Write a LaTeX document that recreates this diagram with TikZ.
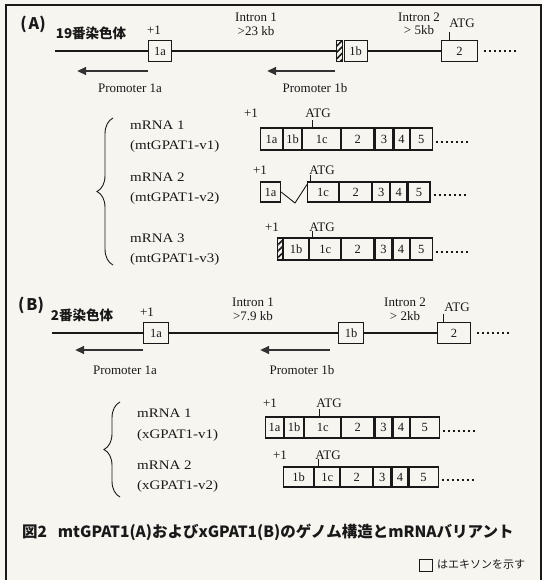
\documentclass[tikz,border=0pt]{standalone}
\usepackage{fontspec}
\setmainfont{Liberation Serif}
\newfontfamily\serifwide[FakeStretch=1.15]{Liberation Serif}
\newfontfamily\jp{Noto Sans CJK JP}
\usetikzlibrary{arrows.meta,decorations.pathreplacing,patterns.meta,calc}
\definecolor{bg}{RGB}{246,245,240}
\definecolor{ink}{RGB}{25,25,25}
\definecolor{arr}{RGB}{50,50,50}
\tikzset{
 lbl/.style={font=\fontsize{13}{14}\selectfont, text=ink, inner sep=0},
 vlbl/.style={font=\serifwide\fontsize{13}{14}\selectfont, text=ink, inner sep=0, anchor=west},
 exon/.style={draw=ink, line width=1.1pt, minimum height=21pt, inner sep=0, font=\fontsize{12.5}{12.5}\selectfont, text=ink, anchor=west},
 hatchbox/.style={draw=ink, line width=1.1pt, pattern={Lines[angle=45,distance=4.5pt,line width=1.6pt]}, pattern color=ink, minimum width=6pt, minimum height=21pt, inner sep=0, anchor=west},
 chrom/.style={line width=2.8pt, draw=ink},
 prom/.style={line width=2.8pt, draw=arr, -{Triangle[length=9pt,width=7.5pt]}},
 tick/.style={line width=0.9pt, draw=ink},
 dotline/.style={draw=ink, line width=2pt, dash pattern=on 2pt off 3pt},
 cbrace/.style={draw=ink, line width=0.9pt, decorate, decoration={brace, amplitude=16pt, aspect=0.5}},
 panel/.style={font=\jp\bfseries\fontsize{16}{16}\selectfont, text=ink, inner sep=0},
 chrlbl/.style={font=\jp\bfseries\fontsize{13.5}{14}\selectfont, text=ink, inner sep=0},
}
\begin{document}
\begin{tikzpicture}[x=1pt,y=-1pt]
\useasboundingbox (0,0) rectangle (542,580);
\fill[bg] (0,0) rectangle (542,580);
\draw[ink, line width=1.8pt] (6,580) -- (6,5) -- (541,5) -- (541,580);

% ---------- Panel A genome ----------
\node[panel] (lA) at (33,24) {(\hspace{2pt}A)};
\node[chrlbl] (chrA) at (91,33) {19番染色体};
\coordinate (a0) at (55,51);
\node[exon, minimum width=23pt] (a1a) at (148,51) {1a};
\node[hatchbox] (ah) at (336,51) {};
\node[exon, minimum width=23pt] (a1b) at (ah.east) {1b};
\node[exon, minimum width=36pt] (a2) at (441,51) {2};
\draw[chrom] (a0) -- (a1a.west) (a1a.east) -- (ah.west) (a1b.east) -- (a2.west);
\coordinate (ad0) at ($(a2.east)+(6,0)$);
\coordinate (ad1) at ($(a2.east)+(40,0)$);
\draw[dotline] (ad0) -- (ad1);
\node[lbl] (aplus) at (154,30) {+1};
\node[lbl] (ai1) at (256,17) {Intron 1};
\node[lbl] (ai1s) at (256,31) {>23 kb};
\node[lbl] (ai2) at (419,17) {Intron 2};
\node[lbl] (ai2s) at (419,30) {> 5kb};
\node[lbl] (aatg) at (462,23) {ATG};
\draw[tick] ([xshift=8pt]a2.north west) -- ++(0,-8);
\coordinate (pa1s) at (148,71); \coordinate (pa1e) at (77,71);
\draw[prom] (pa1s) -- (pa1e);
\node[lbl] (pa1) at (130,88) {Promoter 1a};
\coordinate (pa2s) at (335,71); \coordinate (pa2e) at (267,71);
\draw[prom] (pa2s) -- (pa2e);
\node[lbl] (pa2) at (315,88) {Promoter 1b};

% ---------- Panel A mRNAs ----------
\draw[cbrace] (113,265) -- (113,118);
\node[vlbl] (m1n) at (130,125) {mRNA 1};
\node[vlbl] (m1v) at (130,146) {(mtGPAT1-v1)};
\node[vlbl] (m2n) at (130,177) {mRNA 2};
\node[vlbl] (m2v) at (130,198) {(mtGPAT1-v2)};
\node[vlbl] (m3n) at (130,238) {mRNA 3};
\node[vlbl] (m3v) at (130,259) {(mtGPAT1-v3)};

% mRNA 1
\node[exon, minimum width=22pt, minimum height=22pt] (m1a) at (260,139) {1a};
\node[exon, minimum width=18pt, minimum height=22pt] (m1b) at (m1a.east) {1b};
\node[exon, minimum width=38pt, minimum height=22pt] (m1c) at (m1b.east) {1c};
\node[exon, minimum width=32pt, minimum height=22pt] (m12) at (m1c.east) {2};
\node[exon, minimum width=18pt, minimum height=22pt] (m13) at (m12.east) {3};
\node[exon, minimum width=15pt, minimum height=22pt] (m14) at (m13.east) {4};
\node[exon, minimum width=22pt, minimum height=22pt] (m15) at (m14.east) {5};
\coordinate (m1d0) at ($(m15.east)+(3,3)$); \coordinate (m1d1) at ($(m15.east)+(35,3)$);
\draw[dotline] (m1d0) -- (m1d1);
\node[lbl] (m1p) at (251,113) {+1};
\node[lbl] (m1t) at (318,113) {ATG};
\draw[tick] ([xshift=10pt]m1c.north west) -- ++(0,-7);

% mRNA 2
\node[exon, minimum width=20pt, minimum height=20pt] (m2a) at (260,192) {1a};
\node[exon, minimum width=31pt, minimum height=20pt] (m2c) at (307,192) {1c};
\node[exon, minimum width=32pt, minimum height=20pt] (m22) at (m2c.east) {2};
\node[exon, minimum width=17pt, minimum height=20pt] (m23) at (m22.east) {3};
\node[exon, minimum width=16pt, minimum height=20pt] (m24) at (m23.east) {4};
\node[exon, minimum width=22pt, minimum height=20pt] (m25) at (m24.east) {5};
\coordinate (m2v0) at (295,203);
\draw[tick] (m2a.east) -- (m2v0) -- ($(m2c.north west)+(0,3)$);
\coordinate (m2d0) at ($(m25.east)+(3,3)$); \coordinate (m2d1) at ($(m25.east)+(35,3)$);
\draw[dotline] (m2d0) -- (m2d1);
\node[lbl] (m2p) at (260,170) {+1};
\node[lbl] (m2t) at (322,170) {ATG};
\draw[tick] ([xshift=3pt]m2c.north west) -- ++(0,-6);

% mRNA 3
\node[hatchbox, minimum width=5pt, minimum height=22pt] (m3h) at (277,249) {};
\node[exon, minimum width=25pt, minimum height=22pt] (m3b) at (m3h.east) {1b};
\node[exon, minimum width=31pt, minimum height=22pt] (m3c) at (m3b.east) {1c};
\node[exon, minimum width=32pt, minimum height=22pt] (m32) at (m3c.east) {2};
\node[exon, minimum width=17pt, minimum height=22pt] (m33) at (m32.east) {3};
\node[exon, minimum width=16pt, minimum height=22pt] (m34) at (m33.east) {4};
\node[exon, minimum width=22pt, minimum height=22pt] (m35) at (m34.east) {5};
\coordinate (m3d0) at ($(m35.east)+(3,3)$); \coordinate (m3d1) at ($(m35.east)+(35,3)$);
\draw[dotline] (m3d0) -- (m3d1);
\node[lbl] (m3p) at (272,227) {+1};
\node[lbl] (m3t) at (322,227) {ATG};
\draw[tick] ([xshift=3pt]m3c.north west) -- ++(0,-6);

% ---------- Panel B genome ----------
\node[panel] (lB) at (31,305) {(\hspace{2pt}B)};
\node[chrlbl] (chrB) at (82,315) {2番染色体};
\coordinate (b0) at (52,333);
\node[exon, minimum width=25pt] (b1a) at (143,333) {1a};
\node[exon, minimum width=25pt] (b1b) at (338,333) {1b};
\node[exon, minimum width=33pt] (b2) at (437,333) {2};
\draw[chrom] (b0) -- (b1a.west) (b1a.east) -- (b1b.west) (b1b.east) -- (b2.west);
\coordinate (bd0) at ($(b2.east)+(6,0)$);
\coordinate (bd1) at ($(b2.east)+(40,0)$);
\draw[dotline] (bd0) -- (bd1);
\node[lbl] (bplus) at (147,312) {+1};
\node[lbl] (bi1) at (253,302) {Intron 1};
\node[lbl] (bi1s) at (253,316) {>7.9 kb};
\node[lbl] (bi2) at (405,302) {Intron 2};
\node[lbl] (bi2s) at (405,316) {> 2kb};
\node[lbl] (batg) at (457,307) {ATG};
\draw[tick] ([xshift=6pt]b2.north west) -- ++(0,-8);
\coordinate (pb1s) at (143,350); \coordinate (pb1e) at (75,350);
\draw[prom] (pb1s) -- (pb1e);
\node[lbl] (pb1) at (125,370) {Promoter 1a};
\coordinate (pb2s) at (330,350); \coordinate (pb2e) at (260,350);
\draw[prom] (pb2s) -- (pb2e);
\node[lbl] (pb2) at (302,370) {Promoter 1b};

% ---------- Panel B mRNAs ----------
\draw[cbrace] (120,497) -- (120,402);
\node[vlbl] (n1n) at (137,413) {mRNA 1};
\node[vlbl] (n1v) at (137,435) {(xGPAT1-v1)};
\node[vlbl] (n2n) at (137,465) {mRNA 2};
\node[vlbl] (n2v) at (137,486) {(xGPAT1-v2)};

\node[exon, minimum width=18pt] (n1a) at (265,427.5) {1a};
\node[exon, minimum width=19pt] (n1b) at (n1a.east) {1b};
\node[exon, minimum width=36pt] (n1c) at (n1b.east) {1c};
\node[exon, minimum width=32pt] (n12) at (n1c.east) {2};
\node[exon, minimum width=17pt] (n13) at (n12.east) {3};
\node[exon, minimum width=16pt] (n14) at (n13.east) {4};
\node[exon, minimum width=29pt] (n15) at (n14.east) {5};
\coordinate (n1d0) at ($(n15.east)+(3,3)$); \coordinate (n1d1) at ($(n15.east)+(35,3)$);
\draw[dotline] (n1d0) -- (n1d1);
\node[lbl] (n1p) at (270,403) {+1};
\node[lbl] (n1t) at (329,403) {ATG};
\draw[tick] ([xshift=15pt]n1c.north west) -- ++(0,-7);

\node[exon, minimum width=30pt, minimum height=20pt] (n2b) at (283,477) {1b};
\node[exon, minimum width=25pt, minimum height=20pt] (n2c) at (n2b.east) {1c};
\node[exon, minimum width=32pt, minimum height=20pt] (n22) at (n2c.east) {2};
\node[exon, minimum width=17pt, minimum height=20pt] (n23) at (n22.east) {3};
\node[exon, minimum width=16pt, minimum height=20pt] (n24) at (n23.east) {4};
\node[exon, minimum width=29pt, minimum height=20pt] (n25) at (n24.east) {5};
\coordinate (n2d0) at ($(n25.east)+(3,3)$); \coordinate (n2d1) at ($(n25.east)+(35,3)$);
\draw[dotline] (n2d0) -- (n2d1);
\node[lbl] (n2p) at (280,455) {+1};
\node[lbl] (n2t) at (328,455) {ATG};
\draw[tick] ([xshift=4pt]n2c.north west) -- ++(0,-7);

% ---------- Caption ----------
\node[font=\jp\bfseries\fontsize{15.5}{15.5}\selectfont, text=ink, anchor=west, inner sep=0] (cap) at (22,532) {図2\hspace{0.7em}mtGPAT1(A)およびxGPAT1(B)のゲノム構造とmRNAバリアント};
\node[draw=ink, line width=0.8pt, minimum width=13pt, minimum height=12pt, inner sep=0] (leg) at (426,565) {};
\node[font=\jp\fontsize{11}{11}\selectfont, text=ink, anchor=west, inner sep=0] (legt) at (437,565) {はエキソンを示す};
\end{tikzpicture}
\end{document}
